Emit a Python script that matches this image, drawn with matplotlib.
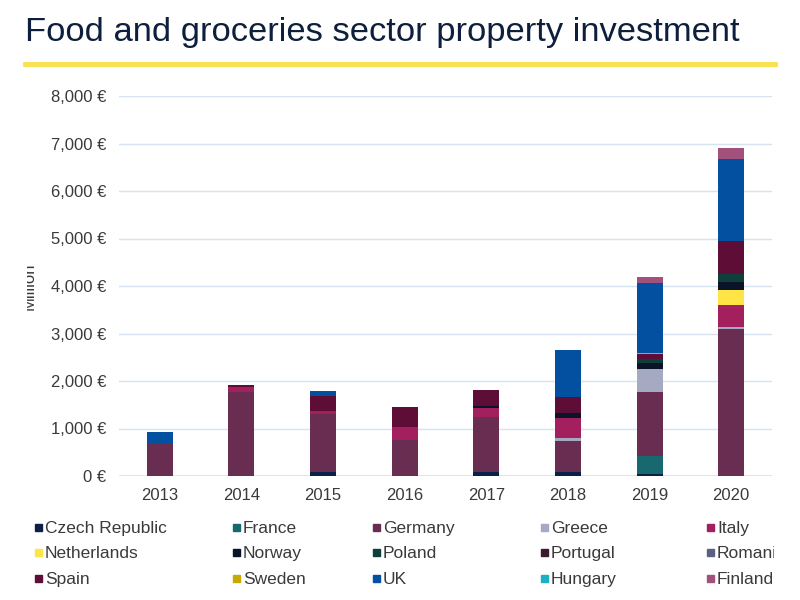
import matplotlib
matplotlib.use("Agg")
import matplotlib.pyplot as plt
import numpy as np
from matplotlib.patches import Rectangle
from matplotlib.ticker import FuncFormatter, MultipleLocator

plt.rcParams['font.family'] = ['Liberation Sans', 'DejaVu Sans']

years = ['2013', '2014', '2015', '2016', '2017', '2018', '2019', '2020']

countries = ['Czech Republic', 'France', 'Germany', 'Greece', 'Italy',
             'Netherlands', 'Norway', 'Poland', 'Portugal', 'Romania',
             'Spain', 'Sweden', 'UK', 'Hungary', 'Finland']

czech       = [0, 0, 80, 0, 80, 90, 40, 0]
france      = [0, 0, 0, 0, 0, 0, 390, 0]
germany     = [680, 1770, 1220, 760, 1155, 650, 1340, 3100]
greece      = [0, 0, 0, 0, 0, 50, 480, 40]
italy       = [0, 100, 75, 265, 190, 440, 0, 450]
netherlands = [0, 0, 0, 0, 0, 0, 0, 320]
norway      = [0, 0, 0, 0, 50, 100, 120, 180]
poland      = [0, 0, 0, 0, 0, 0, 90, 160]
portugal    = [0, 0, 0, 0, 0, 0, 0, 0]
romania     = [0, 0, 0, 0, 0, 0, 0, 0]
spain       = [0, 40, 305, 435, 330, 340, 110, 700]
sweden      = [0, 0, 0, 0, 0, 0, 30, 0]
uk          = [250, 0, 100, 0, 0, 980, 1470, 1720]
hungary     = [0, 0, 0, 0, 0, 0, 0, 0]
finland     = [0, 0, 0, 0, 0, 0, 110, 240]

series = [czech, france, germany, greece, italy, netherlands, norway, poland,
          portugal, romania, spain, sweden, uk, hungary, finland]

colors = ['#0b2045', '#17686f', '#6a2d52', '#a6a9c2', '#a31f5e',
          '#ffe446', '#0a1429', '#0e3f3b', '#3e1a30', '#5b6182',
          '#5e0e36', '#c9a900', '#0450a0', '#1cb1c1', '#a1517c']

fig = plt.figure(figsize=(8, 6), dpi=100)
fig.patch.set_facecolor('white')

# Title and yellow rule
fig.text(25 / 800, 1 - 32 / 600, 'Food and groceries sector property investment',
         fontsize=24.8, color='#0d1f3c', va='center', ha='left')
fig.add_artist(plt.Line2D([25 / 800, 775 / 800], [1 - 63.5 / 600, 1 - 63.5 / 600],
                          color='#f9e34d', lw=3.5))

ax = fig.add_axes([119 / 800, 1 - 476 / 600, (772 - 119) / 800, (476 - 96) / 600])
x = np.arange(len(years))
bottom = np.zeros(len(years))
for vals, col, name in zip(series, colors, countries):
    v = np.array(vals, dtype=float)
    ax.bar(x, v, 0.32, bottom=bottom, color=col, label=name, zorder=3)
    bottom += v

ax.set_xlim(-0.5, len(years) - 0.5)
ax.set_ylim(0, 8000)
ax.yaxis.set_major_locator(MultipleLocator(1000))
ax.yaxis.set_major_formatter(FuncFormatter(lambda v, p: f'{int(v):,} €'))
ax.set_xticks(x)
ax.set_xticklabels(years)
ax.tick_params(axis='both', length=0, labelsize=12, labelcolor='#3a3a3a')
ax.tick_params(axis='x', pad=9)
ax.tick_params(axis='y', pad=9)
ax.grid(axis='y', color='#d5e3f1', lw=1, zorder=0)
for s in ax.spines.values():
    s.set_visible(False)
ax.axhline(0, color='#d5e3f1', lw=1.2, zorder=1)

# Clipped "Million" label
ylab = fig.text(29 / 800, 1 - 286 / 600, 'Million', rotation=90, fontsize=12,
                color='#3a3a3a', ha='center', va='center')
clip_rect = Rectangle((27, 0), 800, 600, transform=None)
ylab.set_clip_path(clip_rect)

# Legend drawn manually, row-wise
col_x = [35, 233, 373, 541, 707]
row_y = [527, 552, 578]
for i, (name, col) in enumerate(zip(countries, colors)):
    r, c = divmod(i, 5)
    xm = col_x[c]
    ym = row_y[r]
    fig.add_artist(Rectangle((xm / 800, 1 - (ym + 4) / 600), 7 / 800, 7 / 600,
                             color=col, transform=fig.transFigure))
    t = fig.text((xm + 10) / 800, 1 - ym / 600, name, fontsize=12.5,
                 color='#3a3a3a', ha='left', va='center_baseline')
    t.set_clip_path(Rectangle((0, 0), 774, 600, transform=None))

fig.savefig('out.png', dpi=100)
